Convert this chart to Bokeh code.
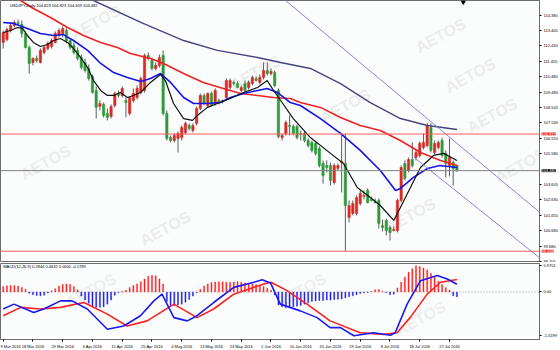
from bokeh.plotting import figure
from bokeh.layouts import column
from bokeh.models import FixedTicker, PrintfTickFormatter, Span, Label, Range1d
from bokeh.core.properties import value
from bokeh.embed import file_html
from bokeh.resources import INLINE

# ---------------- data (USDJPY daily) ----------------
open_ = [112.65, 112.84, 113.41, 113.73, 113.92, 113.79, 113.22, 112.33, 111.37, 111.63,
         111.37, 112.01, 112.26, 112.39, 112.65, 113.09, 113.22, 113.41, 112.77, 112.45,
         112.14, 111.69, 111.37, 110.99, 110.48, 109.59, 108.57, 108.70, 108.12, 107.93,
         108.63, 109.40, 109.27, 108.95, 108.12, 108.95, 109.14, 109.46, 109.59, 111.82,
         111.50, 110.99, 111.18, 111.82, 108.12, 106.59, 106.40, 106.53, 106.59, 106.91,
         107.36, 107.04, 107.49, 108.44, 109.27, 108.63, 109.40, 108.76, 108.95, 108.89,
         109.14, 109.78, 110.10, 110.03, 109.59, 110.03, 109.78, 110.03, 110.35, 110.10,
         110.42, 110.86, 110.67, 110.73, 109.59, 106.59, 106.85, 107.36, 107.29, 107.29,
         106.85, 106.85, 106.40, 106.28, 106.21, 105.89, 104.94, 104.81, 104.81, 103.73,
         104.62, 105.00, 104.94, 101.50, 101.75, 101.75, 102.39, 102.84, 103.22, 102.65,
         102.52, 102.58, 100.99, 101.31, 100.86, 100.67, 100.67, 102.58, 104.94, 104.49,
         105.19, 105.32, 105.45, 105.96, 106.08, 107.23, 105.64, 105.96, 106.40, 105.58,
         104.81, 105.00, 104.823]
high = [113.41, 113.60, 113.86, 114.05, 114.11, 114.05, 113.35, 112.45, 111.69, 111.82,
        112.26, 112.45, 112.71, 112.90, 113.35, 113.54, 113.66, 113.54, 112.90, 112.65,
        112.33, 111.88, 111.63, 111.24, 110.61, 109.84, 108.95, 108.82, 108.44, 108.70,
        109.52, 109.59, 109.84, 109.14, 109.21, 109.72, 109.91, 110.48, 111.94, 112.01,
        111.69, 111.37, 111.88, 112.14, 108.31, 106.72, 106.85, 106.98, 107.36, 107.61,
        107.49, 107.49, 108.57, 109.40, 109.40, 109.46, 109.52, 109.72, 109.08, 109.01,
        110.35, 110.35, 110.22, 110.16, 109.91, 110.22, 110.22, 110.54, 110.48, 110.61,
        111.37, 111.37, 110.99, 110.86, 109.72, 106.85, 107.68, 108.00, 107.42, 107.42,
        107.04, 106.98, 106.53, 106.40, 106.34, 106.02, 105.13, 105.13, 105.00, 104.94,
        104.94, 106.80, 106.813, 102.58, 102.58, 102.90, 103.22, 103.22, 103.35, 102.84,
        102.71, 102.71, 101.37, 101.43, 100.99, 100.93, 102.71, 104.81, 105.13, 105.32,
        106.28, 105.77, 106.34, 106.85, 107.49, 107.49, 106.40, 106.40, 106.59, 105.77,
        106.53, 105.13, 104.823]
low = [112.26, 112.71, 113.28, 113.60, 113.73, 112.96, 112.26, 110.67, 111.18, 111.37,
       111.31, 111.88, 112.14, 112.26, 112.58, 112.96, 112.96, 112.58, 112.20, 111.88,
       111.50, 110.93, 110.73, 110.22, 109.40, 107.80, 108.31, 107.87, 107.68, 107.80,
       108.51, 109.14, 109.14, 107.87, 108.00, 108.82, 109.01, 109.33, 109.46, 111.50,
       110.86, 110.86, 111.05, 108.00, 106.40, 106.28, 106.28, 105.64, 106.40, 106.79,
       107.04, 106.91, 107.36, 108.31, 108.63, 108.51, 108.57, 108.63, 108.70, 108.76,
       109.01, 109.65, 109.91, 109.72, 109.46, 109.46, 109.65, 109.91, 110.16, 109.97,
       110.29, 110.54, 110.54, 109.78, 106.53, 106.40, 106.72, 106.72, 106.72, 106.47,
       106.40, 106.28, 105.96, 105.64, 105.45, 104.68, 103.66, 104.36, 103.54, 103.60,
       104.49, 103.09, 99.348, 101.18, 101.63, 101.63, 102.26, 102.65, 102.39, 102.52,
       102.39, 100.80, 100.61, 100.35, 100.03, 100.61, 100.54, 102.45, 103.86, 104.36,
       104.68, 105.13, 105.32, 105.83, 105.96, 105.64, 105.51, 105.83, 105.32, 104.05,
       104.11, 103.54, 104.409]
close = [113.28, 113.47, 113.73, 113.92, 113.86, 113.22, 112.33, 111.31, 111.63, 111.50,
         112.14, 112.33, 112.58, 112.77, 113.22, 113.41, 113.54, 112.77, 112.33, 112.01,
         111.63, 111.05, 110.86, 110.35, 109.46, 108.51, 108.76, 108.00, 107.87, 108.57,
         109.40, 109.27, 109.72, 108.82, 109.14, 109.40, 109.72, 110.35, 111.82, 111.63,
         110.99, 111.18, 111.69, 108.12, 106.53, 106.40, 106.72, 106.85, 107.23, 107.49,
         107.17, 107.36, 108.44, 109.27, 108.76, 109.40, 108.63, 109.59, 108.82, 108.95,
         110.22, 110.22, 110.03, 109.78, 109.78, 109.59, 110.10, 110.42, 110.22, 110.42,
         110.86, 110.67, 110.80, 109.91, 106.66, 106.72, 107.55, 107.29, 106.85, 106.59,
         106.79, 106.40, 106.08, 105.77, 105.58, 104.81, 104.17, 104.68, 103.86, 104.81,
         104.81, 105.07, 102.26, 102.26, 102.39, 102.77, 103.03, 102.90, 102.45, 102.58,
         102.45, 101.12, 100.86, 100.67, 100.54, 100.73, 102.58, 104.68, 103.98, 105.19,
         104.81, 105.64, 106.21, 106.28, 107.36, 105.77, 106.21, 106.28, 105.45, 104.94,
         105.32, 104.62, 104.482]

# moving averages (bar position, price)
ma_fast_bar = [0, 2, 3.8, 5.2, 6.5, 8.1, 10, 11.9, 13.5, 15.4, 17.3, 18.9, 20.8, 22.7, 24.3,
               26.2, 28, 29.7, 31.5, 33.4, 35, 36.9, 39.6, 42.3, 43.6, 45.8, 48.5, 50.9, 52.2,
               54.9, 57.6, 61.1, 64.6, 68.4, 71, 72.7, 74.6, 78, 82.6, 88, 91.5, 95.2, 98.7,
               101.4, 105, 106.8, 109.5, 112.2, 115.7, 118.4, 122]
ma_fast = [113.28, 113.41, 113.60, 113.54, 113.09, 112.65, 112.39, 112.52, 112.77, 112.90,
           112.65, 112.26, 111.69, 111.05, 110.22, 109.59, 109.27, 109.27, 109.46, 109.14,
           109.27, 109.46, 110.10, 110.61, 110.22, 108.76, 107.80, 107.68, 108.00, 108.51,
           108.76, 109.08, 109.46, 109.78, 110.22, 109.59, 108.95, 107.80, 106.59, 105.58,
           104.94, 103.41, 102.77, 102.26, 101.31, 102.14, 103.41, 104.68, 105.45, 105.58,
           105.13]
ma_mid_bar = [0, 2.8, 6.5, 10, 13.5, 16.2, 18.9, 22.7, 26.2, 29.7, 33.4, 37, 39.6, 42.3, 45,
              48.5, 51.2, 55, 58.4, 61.1, 64.6, 68.4, 71, 73.7, 77.2, 79.9, 85.3, 90.7, 96,
              101.4, 105.5, 106.8, 110.3, 114.1, 117.4, 122]
ma_mid = [113.92, 113.86, 113.54, 113.22, 113.09, 113.15, 112.77, 112.14, 111.31, 110.73,
          110.42, 110.16, 110.35, 110.67, 110.10, 109.14, 108.76, 108.76, 108.82, 109.14,
          109.40, 109.59, 109.72, 109.46, 108.82, 108.63, 107.80, 106.85, 105.77, 104.49,
          103.22, 103.35, 104.05, 104.62, 104.81, 104.68]
ma_slow_bar = [0, 4.7, 8.1, 12.7, 17.3, 21.6, 26.2, 30.7, 34.2, 39.6, 43.1, 48.5, 53.8, 59.2,
               63.8, 68.4, 72.7, 77.2, 79.9, 85.3, 90.7, 96, 101.4, 106.8, 112.2, 117.6, 122]
ma_slow = [115.90, 115.32, 114.81, 114.24, 113.60, 113.09, 112.65, 112.33, 111.94, 111.63,
           111.31, 110.67, 110.10, 109.72, 109.40, 109.27, 109.14, 109.08, 108.82, 108.51,
           107.87, 107.36, 107.04, 106.40, 105.64, 105.13, 104.81]
ma_long_bar = [0, 24.3, 37, 48.5, 57.6, 68.4, 74.6, 82.6, 90.7, 98.7, 106.8, 114.1, 122]
ma_long = [117.90, 115.32, 113.92, 112.77, 112.14, 111.69, 111.37, 110.99, 110.03, 108.82,
           107.80, 107.36, 107.10]

# channel trend lines (anchor bar, anchor price)
trend_up_bar = [75.9, 144.2]
trend_up = [115.32, 101.84]
trend_lo_bar = [110.4, 144.0]
trend_lo = [105.34, 98.97]

level_high = 106.813
level_low = 99.348
last_price = 104.482

price_ticks = [114.380, 113.405, 112.430, 111.455, 110.480, 109.480, 108.505, 107.530,
               106.555, 105.580, 103.605, 102.630, 101.655, 100.680, 99.680, 98.705]

date_ticks = [0, 8, 16, 24, 32, 40, 48, 56, 64, 72, 80, 88, 96, 104, 112, 120]
date_labels = ["9 Mar 2016", "18 Mar 2016", "29 Mar 2016", "6 Apr 2016", "15 Apr 2016",
               "25 Apr 2016", "4 May 2016", "13 May 2016", "23 May 2016", "1 Jun 2016",
               "10 Jun 2016", "20 Jun 2016", "29 Jun 2016", "8 Jul 2016", "18 Jul 2016",
               "27 Jul 2016"]

# MACD(12,26,9): histogram per bar, and the two lines read at points
macd_hist = [0.20, 0.23, 0.24, 0.24, 0.22, 0.17, 0.10,
             -0.05, -0.10, -0.13, -0.14, -0.12, -0.04,
             0.05, 0.12, 0.22, 0.28, 0.30, 0.28, 0.20, 0.08,
             -0.15, -0.30, -0.42, -0.52, -0.57, -0.57, -0.55, -0.45, -0.30,
             -0.12, -0.03, 0.02,
             0.07, 0.17, 0.24, 0.30, 0.38, 0.48, 0.58, 0.61, 0.60, 0.48, 0.30,
             -0.35, -0.50, -0.51, -0.48, -0.45, -0.38, -0.28, -0.15, -0.03,
             0.10, 0.22, 0.30, 0.35, 0.37, 0.38, 0.38, 0.36, 0.36, 0.37, 0.38, 0.36, 0.33,
             0.30, 0.30, 0.28, 0.24, 0.20, 0.14, 0.07,
             -0.10, -0.48, -0.55, -0.58, -0.57, -0.55, -0.53, -0.50,
             -0.45, -0.40, -0.35, -0.33, -0.32, -0.32, -0.30, -0.30, -0.28, -0.27, -0.26,
             -0.22, -0.18, -0.14, -0.10,
             -0.06, -0.04, -0.02, 0.02,
             0.08, 0.09, 0.03, -0.02, -0.10, -0.08,
             0.15, 0.36, 0.55, 0.73, 0.86, 0.97, 0.94, 0.89, 0.82, 0.69, 0.55, 0.40, 0.28,
             0.16, 0.07,
             -0.14, -0.1789]
macd_main_bar = [0, 2.9, 8.2, 10.9, 15.4, 18.5, 22.6, 28, 32.4, 36.9, 40.5, 42.7, 45.9, 49.5,
                 52.1, 56.6, 62, 67.4, 69.6, 71.9, 74.5, 79.9, 84.4, 87.9, 90.7, 94.3, 99.6,
                 104.1, 105.4, 108.6, 112.2, 116.7, 119.4, 122]
macd_main = [-0.63, -0.45, -0.76, -0.63, -0.33, -0.33, -0.63, -1.38, -1.26, -0.88, -0.33,
             -0.08, -0.95, -1.07, -0.88, -0.39, 0.17, 0.36, 0.45, 0.33, -0.45, -0.70, -0.95,
             -1.32, -1.32, -1.6199, -1.51, -1.60, -1.51, -0.45, 0.42, 0.61, 0.48, 0.2844]
macd_signal_bar = [0, 4.7, 10, 15.4, 21.7, 28, 33.3, 38.7, 45.9, 52.1, 56.6, 62, 70.1, 72,
                   76.3, 81.7, 87.9, 96, 102.3, 105.9, 109.4, 114, 117.6, 122]
macd_signal = [-0.88, -0.57, -0.63, -0.57, -0.39, -0.82, -1.26, -1.07, -0.45, -0.95, -0.63,
               -0.08, 0.30, 0.36, 0.05, -0.45, -1.07, -1.51, -1.57, -1.51, -0.95, -0.08,
               0.36, 0.4632]
macd_ticks = [0.9701, 0.0, -1.6199]
macd_tick_labels = ["0.9701", "0.00", "-1.6199"]

# ---------------- drawing ----------------
FONT = "Liberation Sans"
bars = list(range(len(close)))
RED_C = "#d92a26"
GRN_C = "#2e9a3a"
BG = "#fbfdfc"

x_rng = Range1d(-0.73, 144.2)

p = figure(frame_width=539, frame_height=262, x_range=x_rng,
           y_range=Range1d(98.63, 115.32), x_axis_location=None,
           y_axis_location="right", output_backend="svg", toolbar_location=None,
           min_border_left=0, min_border_top=0, min_border_bottom=0, min_border_right=0,
           background_fill_color=BG, border_fill_color="white")
p.grid.visible = False
p.outline_line_color = "#6e6e6e"

# faint watermark
wm_bar = [24.8, 11.4, 43.6, 67.9, 117.6, 125.6, 131.5, 139.1, 109.5, 92.0]
wm_price = [113.92, 105.0, 100.8, 110.73, 113.09, 110.54, 108.0, 104.81, 101.63, 108.6]
p.text(x=wm_bar, y=wm_price, text=["AETOS"] * len(wm_bar), angle=0.5,
       text_font=value(FONT), text_font_style="bold", text_font_size="16px",
       text_color="#ececec", text_align="center", text_baseline="middle")

# levels
p.add_layout(Span(location=level_high, dimension="width", line_color="#ff5a5a", line_width=1))
p.add_layout(Span(location=level_low, dimension="width", line_color="#ff5a5a", line_width=1))
p.add_layout(Span(location=last_price, dimension="width", line_color="#808080", line_width=1))

# candles
body_top = [max(o, c) for o, c in zip(open_, close)]
body_bot = [min(o, c) for o, c in zip(open_, close)]
colors = [RED_C if c > o else (GRN_C if c < o else "#707070") for o, c in zip(open_, close)]
p.segment(x0=bars, y0=low, x1=bars, y1=high, line_color="#5c5c5c", line_width=1)
p.vbar(x=bars, top=body_top, bottom=body_bot, width=0.62, fill_color=colors, line_color=colors,
       line_width=0.6)

# moving averages
p.line(ma_long_bar, ma_long, line_color="#45457e", line_width=1.4)
p.line(ma_slow_bar, ma_slow, line_color="#ee2222", line_width=1.6)
p.line(ma_mid_bar, ma_mid, line_color="#1414e6", line_width=1.6)
p.line(ma_fast_bar, ma_fast, line_color="#111111", line_width=1.2)

# channel
p.line(trend_up_bar, trend_up, line_color="#8585e0", line_width=1)
p.line(trend_lo_bar, trend_lo, line_color="#8585e0", line_width=1)

# chart-shift marker at the top border
p.scatter(x=[123.7], y=[115.22], marker="inverted_triangle", size=4, color="#000000")

# right price axis
p.yaxis.ticker = FixedTicker(ticks=price_ticks)
p.yaxis.formatter = PrintfTickFormatter(format="%.3f")
for ax in p.yaxis:
    ax.major_label_text_font_size = "4px"
    ax.major_label_text_font = FONT
    ax.major_label_text_color = "#000000"
    ax.major_tick_out = 2
    ax.major_tick_in = 0
    ax.minor_tick_out = 0
    ax.minor_tick_in = 0
    ax.major_label_standoff = 2
    ax.axis_line_color = "#6e6e6e"

p.add_layout(Label(x=1.8, y=115.0, text="USDJPY,Daily  104.823 104.823 104.409 104.482",
                   text_font=FONT, text_font_size="4px", text_color="#000000",
                   text_baseline="middle"))

# price tags on the right scale: side-panel labels (outside the price axis, so not
# clipped to the frame), positioned in data units just right of the frame edge
tags = []
for val, bg in [(level_high, "#ff2020"), (last_price, "#000000"), (level_low, "#ff2020")]:
    tags.append(Label(x=144.75, y=val, text=f"{val:.3f}", text_font=FONT,
                      text_font_size="4px", text_color="white", background_fill_color=bg,
                      text_baseline="middle", text_align="left"))
p.right = list(p.right) + tags

# ---------------- MACD panel ----------------
q = figure(frame_width=539, frame_height=76, x_range=x_rng, y_range=Range1d(-1.76, 1.055),
           x_axis_location="below", y_axis_location="right", output_backend="svg",
           toolbar_location=None, min_border_left=0, min_border_top=1, min_border_bottom=0,
           min_border_right=0, background_fill_color=BG, border_fill_color="white")
q.grid.visible = False
q.outline_line_color = "#6e6e6e"

q.text(x=[23.5, 80.0, 112.2], y=[0.05, 0.05, -0.98], text=["AETOS"] * 3, angle=0.5,
       text_font=value(FONT), text_font_style="bold", text_font_size="16px",
       text_color="#eeeeee", text_align="center", text_baseline="middle")

q.add_layout(Span(location=0, dimension="width", line_color="#9a9a9a", line_width=1,
                  line_dash="1 2"))
h_top = [max(h, 0) for h in macd_hist]
h_bot = [min(h, 0) for h in macd_hist]
h_col = ["#ff1a1a" if h > 0 else "#1a1ae6" for h in macd_hist]
q.vbar(x=bars, top=h_top, bottom=h_bot, width=0.28, fill_color=h_col, line_color=h_col,
       line_width=0.4)
q.line(macd_signal_bar, macd_signal, line_color="#ff2020", line_width=1.6)
q.line(macd_main_bar, macd_main, line_color="#1a1aee", line_width=1.6)

q.add_layout(Label(x=0.0, y=0.94, text="MACD(12,26,9) 0.2844 0.4632 0.0000 -0.1789",
                   text_font=FONT, text_font_size="4px", text_color="#000000",
                   text_baseline="middle"))

q.yaxis.ticker = FixedTicker(ticks=macd_ticks)
q.yaxis.major_label_overrides = dict(zip(macd_ticks, macd_tick_labels))
q.xaxis.ticker = FixedTicker(ticks=date_ticks)
q.xaxis.major_label_overrides = dict(zip(date_ticks, date_labels))
for ax in list(q.yaxis) + list(q.xaxis):
    ax.major_label_text_font_size = "4px"
    ax.major_label_text_font = FONT
    ax.major_label_text_color = "#000000"
    ax.major_tick_out = 2
    ax.major_tick_in = 0
    ax.minor_tick_out = 0
    ax.minor_tick_in = 0
    ax.major_label_standoff = 2
    ax.axis_line_color = "#6e6e6e"
for ax in q.xaxis:
    ax.major_label_text_align = "left"

layout = column(p, q, spacing=0)
open("out.html", "w").write(file_html(layout, INLINE))
